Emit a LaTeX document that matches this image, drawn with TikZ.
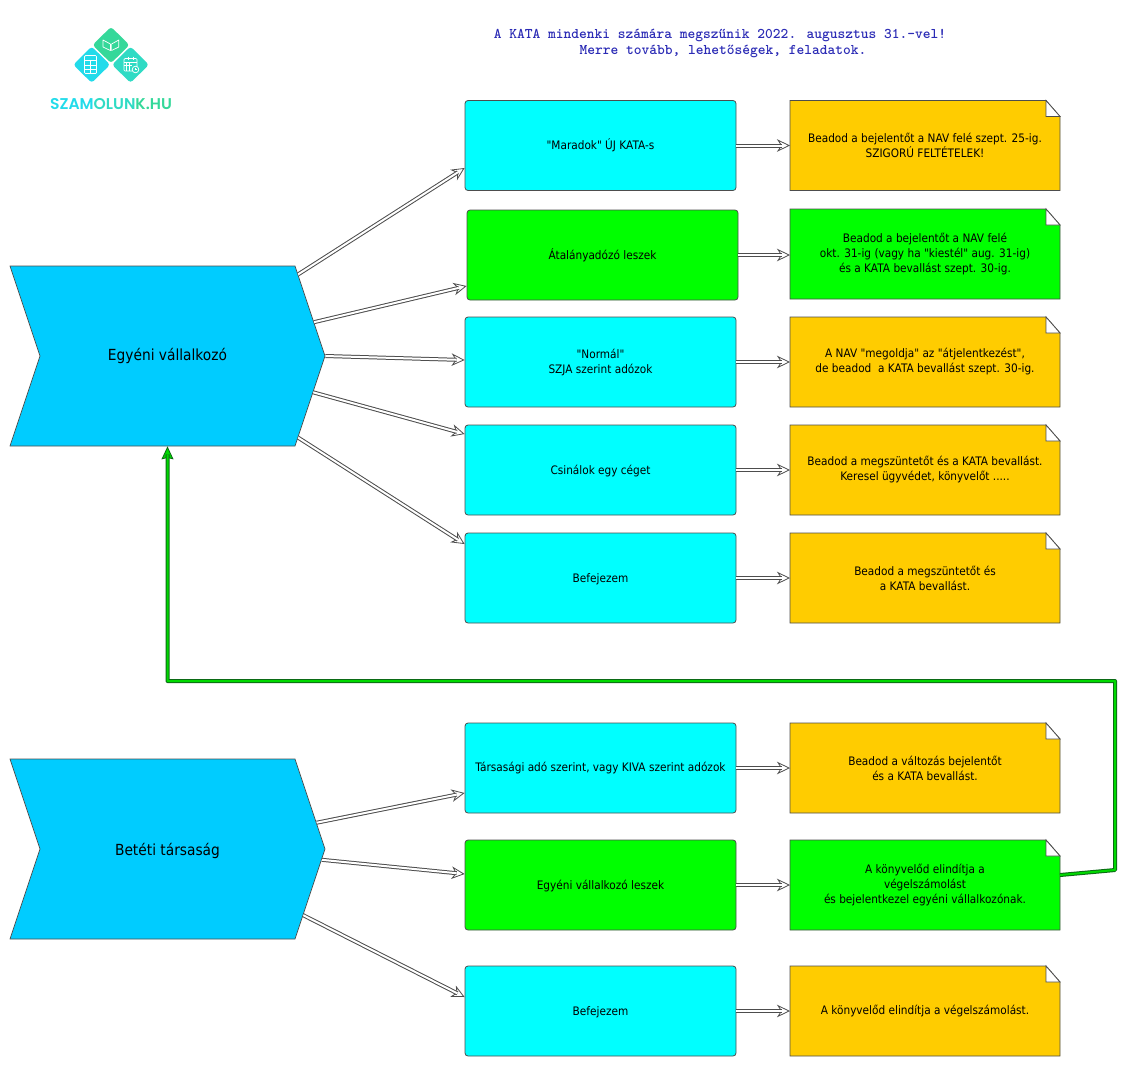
\documentclass[tikz,border=0pt]{standalone}
\usepackage{fontspec}
\defaultfontfeatures[\rmfamily]{Scale=1}
\setmainfont{DejaVu Sans}[FakeStretch=0.9]
\newfontfamily\logofont{Poppins}[BoldFont=Poppins SemiBold]
\usetikzlibrary{positioning,arrows.meta,shapes.symbols,shapes.geometric}

\definecolor{kata}{HTML}{00CCFF}
\definecolor{tiszta}{HTML}{00FFFF}
\definecolor{arany}{HTML}{FFCC00}
\definecolor{cimkek}{HTML}{2B2BB5}
\definecolor{logokek}{HTML}{22DBEA}
\definecolor{logozold}{HTML}{35D89A}
\definecolor{logotur}{HTML}{30DBC4}
\definecolor{sotetzold}{HTML}{0B6A15}
\definecolor{vonal}{HTML}{4D4D4D}

% rectangle with a folded corner
\makeatletter
\pgfdeclareshape{dogear}{
    \inheritsavedanchors[from=rectangle]
    \inheritanchorborder[from=rectangle]
    \inheritanchor[from=rectangle]{center}
    \inheritanchor[from=rectangle]{north}
    \inheritanchor[from=rectangle]{south}
    \inheritanchor[from=rectangle]{west}
    \inheritanchor[from=rectangle]{east}
    \inheritanchor[from=rectangle]{north east}
    \inheritanchor[from=rectangle]{south west}
    \backgroundpath{
        \southwest \pgf@xa=\pgf@x \pgf@ya=\pgf@y
        \northeast \pgf@xb=\pgf@x \pgf@yb=\pgf@y
        \pgf@xc=\pgf@xb \advance\pgf@xc by -14pt
        \pgf@yc=\pgf@yb \advance\pgf@yc by -16pt
        \pgfpathmoveto{\pgfqpoint{\pgf@xa}{\pgf@ya}}
        \pgfpathlineto{\pgfqpoint{\pgf@xb}{\pgf@ya}}
        \pgfpathlineto{\pgfqpoint{\pgf@xb}{\pgf@yc}}
        \pgfpathlineto{\pgfqpoint{\pgf@xc}{\pgf@yb}}
        \pgfpathlineto{\pgfqpoint{\pgf@xa}{\pgf@yb}}
        \pgfpathclose
    }
    \foregroundpath{
        \northeast \pgf@xb=\pgf@x \pgf@yb=\pgf@y
        \pgf@xc=\pgf@xb \advance\pgf@xc by -14pt
        \pgf@yc=\pgf@yb \advance\pgf@yc by -16pt
        \pgfsetfillcolor{white}
        \pgfsetstrokecolor{vonal}
        \pgfsetlinewidth{.8pt}
        \pgfpathmoveto{\pgfqpoint{\pgf@xb}{\pgf@yc}}
        \pgfpathlineto{\pgfqpoint{\pgf@xc}{\pgf@yb}}
        \pgfpathlineto{\pgfqpoint{\pgf@xc}{\pgf@yc}}
        \pgfpathclose
        \pgfusepath{fill,stroke}
    }
}
\makeatother

\begin{document}
\begin{tikzpicture}[
    x=1pt, y=-1pt,
    font=\fontsize{11.7pt}{15pt}\selectfont,
    chevron/.style={
        signal, signal from=west, signal to=east,
        signal pointer angle=143.1,
        draw=vonal, line width=.7pt, fill=kata,
        minimum width=315pt, minimum height=180pt,
        inner sep=0pt,
        font=\fontsize{15.3pt}{16pt}\selectfont
    },
    choice/.style={
        draw=vonal, line width=.8pt, rounded corners=3pt,
        minimum width=271pt, minimum height=90pt,
        align=center, inner sep=0pt
    },
    note/.style={
        dogear, draw=vonal, line width=.8pt,
        minimum width=270pt, minimum height=90pt,
        align=center, inner sep=0pt, outer sep=0pt
    },
    flow/.style={
        draw=vonal, line width=1pt, double=white, double distance=2pt,
        shorten >=8pt,
        preaction={draw=vonal, line width=.8pt, shorten >=0pt,
            -{Stealth[length=13pt, width=12.5pt, inset=4pt, fill=white]}}
    },
    back/.style={
        draw=sotetzold, line width=1pt, double=green!85!black, double distance=2pt,
        line join=round, shorten >=8pt,
        preaction={draw=sotetzold, line width=.8pt, shorten >=0pt,
            -{Stealth[length=13pt, width=12pt, inset=1.5pt, fill=green!85!black]}}
    },
    logotile/.style={
        diamond, rounded corners=3pt, inner sep=0pt,
        minimum width=37pt, minimum height=36.5pt
    },
    glyph/.style={white, line width=.7pt}
]
\useasboundingbox (0,0) rectangle (1132,1080);

% Title
\node[font=\ttfamily\bfseries\fontsize{14.77pt}{16pt}\selectfont, text=cimkek, align=center] (title) at (720,43)
    {A KATA mindenki számára megszűnik 2022. augusztus 31.-vel!\\\hspace*{6pt}Merre tovább, lehetőségek, feladatok.};

% Logo
\node[logotile, fill=logozold] (tileb) at (111,45) {};
\node[logotile, fill=logokek] (tilec) at (91.7,64.7) {};
\node[logotile, fill=logotur] (tiled) at (130.5,64.7) {};
\node[font=\logofont\bfseries\fontsize{15.6pt}{16pt}\selectfont, inner sep=0pt] (logotext) at (111,104)
    {\textcolor{logokek}{SZAM}\textcolor{logotur}{OLUN}\textcolor{logozold}{K.HU}};

% calculator
\draw[glyph, rounded corners=1pt] (84.5,55.5) rectangle (96.5,73.5);
\draw[glyph] (84.5,60.5) -- (96.5,60.5) (84.5,65) -- (96.5,65) (84.5,69.2) -- (96.5,69.2) (90.5,60.5) -- (90.5,73.5);
% book
\draw[glyph, line join=round] (103,40) -- (103,47) -- (110.4,50.5) -- (110.4,44) -- cycle;
\draw[glyph, line join=round] (118.8,40) -- (118.8,47) -- (111.6,50.5) -- (111.6,44) -- cycle;
% calendar
\draw[glyph, rounded corners=1pt] (124,58.5) rectangle (137,71);
\draw[glyph] (124,62) -- (137,62) (128,56.5) -- (128,60) (133,56.5) -- (133,60)
    (124,65.5) -- (132,65.5) (126.8,62) -- (126.8,71) (129.6,62) -- (129.6,71);
\draw[glyph, fill=logotur] (135.5,69.5) circle (3.3pt);
\draw[white, line width=.5pt] (135.5,67.8) -- (135.5,69.5) -- (137,69.5);

% Chevrons
\node[chevron] (egyeni) at (167.5,356) {Egyéni vállalkozó};
\node[chevron, text depth=0pt] (betet) at (167.5,849) {Betéti társaság};

% Upper group
\node[choice, fill=tiszta] (maradok) at (600.5,145.5) {"Maradok" ÚJ KATA-s};
\node[choice, fill=green, below=18.7pt of maradok, xshift=2pt] (atalany) {Átalányadózó leszek};
\node[choice, fill=tiszta, below=16.2pt of atalany, xshift=-2pt] (normal) {"Normál"\\SZJA szerint adózok};
\node[choice, fill=tiszta, below=17.2pt of normal, text depth=0pt] (ceg) {Csinálok egy céget};
\node[choice, fill=tiszta, below=17.2pt of ceg, text depth=0pt] (befejez) {Befejezem};

\node[note, fill=arany, right=53.6pt of maradok] (nmaradok) {Beadod a bejelentőt a NAV felé szept. 25-ig.\\SZIGORÚ FELTÉTELEK!};
\node[note, fill=green, right=51.6pt of atalany, yshift=1pt] (natalany) {Beadod a bejelentőt a NAV felé\\okt. 31-ig (vagy ha "kiestél" aug. 31-ig)\\és a KATA bevallást szept. 30-ig.};
\node[note, fill=arany, right=53.6pt of normal] (nnormal) {A NAV "megoldja" az "átjelentkezést",\\de beadod\ \ a KATA bevallást szept. 30-ig.};
\node[note, fill=arany, right=53.6pt of ceg] (nceg) {Beadod a megszüntetőt és a KATA bevallást.\\Keresel ügyvédet, könyvelőt .....};
\node[note, fill=arany, right=53.6pt of befejez] (nbefejez) {Beadod a megszüntetőt és\\a KATA bevallást.};

% Lower group
\node[choice, fill=tiszta] (tarsasagi) at (600.5,768) {Társasági adó szerint, vagy KIVA szerint adózok};
\node[choice, fill=green, below=26.2pt of tarsasagi, text depth=0pt] (egyenilesz) {Egyéni vállalkozó leszek};
\node[choice, fill=tiszta, below=35.2pt of egyenilesz, text depth=0pt] (befejezb) {Befejezem};

\node[note, fill=arany, right=53.6pt of tarsasagi] (ntarsasagi) {Beadod a változás bejelentőt\\és a KATA bevallást.};
\node[note, fill=green, right=53.6pt of egyenilesz] (negyeni) {A könyvelőd elindítja a\\végelszámolást\\és bejelentkezel egyéni vállalkozónak.};
\node[note, fill=arany, right=53.6pt of befejezb] (nbefejezb) {A könyvelőd elindítja a végelszámolást.};

% Arrows from the chevrons
\draw[flow] (egyeni.32.3) -- ([yshift=-22.5pt]maradok.west);
\draw[flow] (egyeni.13.2) -- ([yshift=-31pt]atalany.west);
\draw[flow] (egyeni.-.7) -- ([yshift=2pt]normal.west);
\draw[flow] (egyeni.-14.4) -- ([yshift=36pt]ceg.west);
\draw[flow] (egyeni.-32) -- ([yshift=34pt]befejez.west);

\draw[flow] (betet.10.7) -- ([yshift=-25pt]tarsasagi.west);
\draw[flow] (betet.-4.85) -- ([yshift=11pt]egyenilesz.west);
\draw[flow] (betet.-26.5) -- ([yshift=14pt]befejezb.west);

% Arrows to the notes
\draw[flow] (maradok.east) -- (nmaradok.west);
\draw[flow] (atalany.east) -- (natalany.west |- atalany.east);
\draw[flow] (normal.east) -- (nnormal.west);
\draw[flow] (ceg.east) -- (nceg.west);
\draw[flow] (befejez.east) -- (nbefejez.west);
\draw[flow] (tarsasagi.east) -- (ntarsasagi.west);
\draw[flow] (egyenilesz.east) -- (negyeni.west);
\draw[flow] (befejezb.east) -- (nbefejezb.west);

% Way back to the first chevron
\coordinate (kanyar) at (1115,870);
\coordinate (kanyarb) at (1115,681);
\draw[back] ([yshift=10pt]negyeni.east) -- (kanyar) -- (kanyarb) -| (egyeni.south);

\end{tikzpicture}
\end{document}
